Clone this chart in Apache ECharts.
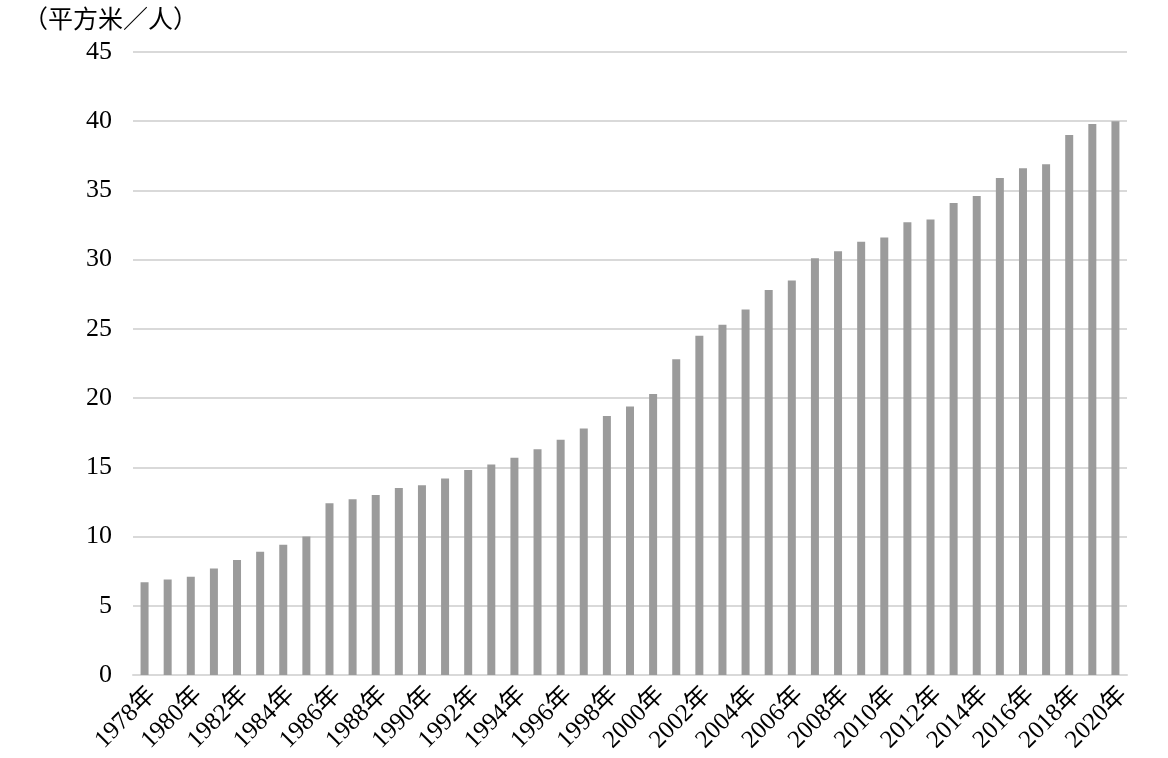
<!DOCTYPE html>
<html>
<head>
<meta charset="utf-8">
<script src="https://cdn.jsdelivr.net/npm/echarts@6/dist/echarts.min.js"></script>
<style>
html,body{margin:0;padding:0;background:#fff;}
#chart{width:1168px;height:758px;}
</style>
</head>
<body>
<div id="chart"></div>
<script>
var years = ['1978年','1979年','1980年','1981年','1982年','1983年','1984年','1985年','1986年','1987年','1988年','1989年','1990年','1991年','1992年','1993年','1994年','1995年','1996年','1997年','1998年','1999年','2000年','2001年','2002年','2003年','2004年','2005年','2006年','2007年','2008年','2009年','2010年','2011年','2012年','2013年','2014年','2015年','2016年','2017年','2018年','2019年','2020年'];
var areaPerCapita = [6.7,6.9,7.1,7.7,8.3,8.9,9.4,10.0,12.4,12.7,13.0,13.5,13.7,14.2,14.8,15.2,15.7,16.3,17.0,17.8,18.7,19.4,20.3,22.8,24.5,25.3,26.4,27.8,28.5,30.1,30.6,31.3,31.6,32.7,32.9,34.1,34.6,35.9,36.6,36.9,39.0,39.8,40.0];
var unitLabel = '（平方米／人）';

var FONT = '"Liberation Serif", "Noto Sans CJK SC", serif';
var chart = echarts.init(document.getElementById('chart'), null, {renderer: 'canvas'});
chart.setOption({
  animation: false,
  backgroundColor: '#ffffff',
  title: {
    text: unitLabel,
    left: 18,
    top: 4,
    textStyle: {fontFamily: FONT, fontSize: 25, fontWeight: 'normal', color: '#000'}
  },
  grid: {left: 133, right: 41, top: 52, bottom: 83, containLabel: false},
  xAxis: {
    type: 'category',
    data: years,
    axisLine: {show: true, lineStyle: {color: '#d9d9d9', width: 2}},
    axisTick: {show: false},
    axisLabel: {
      interval: 1,
      rotate: 45,
      margin: 24,
      padding: [0, -11, 0, 0],
      fontFamily: FONT,
      fontSize: 25,
      color: '#000'
    }
  },
  yAxis: {
    type: 'value',
    min: 0,
    max: 45,
    interval: 5,
    axisLine: {show: false},
    axisTick: {show: false},
    splitLine: {show: true, lineStyle: {color: '#d9d9d9', width: 2}},
    axisLabel: {margin: 21, fontFamily: FONT, fontSize: 26, color: '#000'}
  },
  series: [{
    type: 'bar',
    data: areaPerCapita,
    barWidth: 8,
    itemStyle: {color: '#9b9b9b'}
  }]
});
</script>
</body>
</html>
